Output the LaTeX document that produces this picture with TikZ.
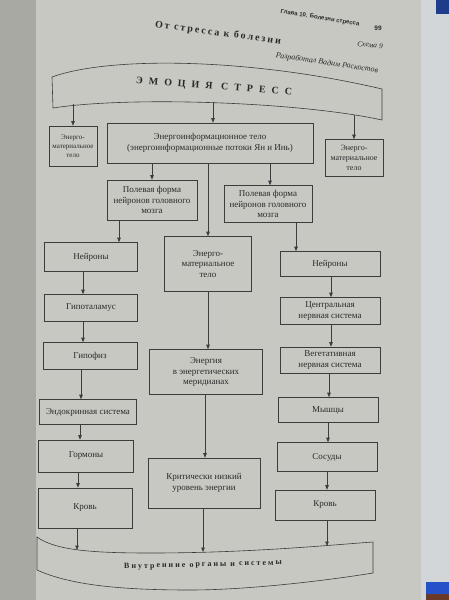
\documentclass[tikz,border=0pt]{standalone}
\usepackage{fontspec}
\setmainfont{Liberation Serif}
\newfontfamily\emofont[LetterSpace=60]{Liberation Serif}
\newfontfamily\orgfont[LetterSpace=25]{Liberation Serif}
\newfontfamily\titfont[LetterSpace=20]{Liberation Serif}
\newfontfamily\headfont{Liberation Sans}
\usetikzlibrary{arrows.meta}
\definecolor{pagec}{HTML}{C8C8C2}
\definecolor{gutterc}{HTML}{A9A9A3}
\definecolor{edgec}{HTML}{D3D6D8}
\definecolor{linec}{HTML}{3C3C3C}
\definecolor{textc}{HTML}{2A2A2A}
\definecolor{bluetop}{HTML}{1E3C8C}
\definecolor{bluebot}{HTML}{2450C8}
\definecolor{brownc}{HTML}{6A3A28}
\begin{document}
\begin{tikzpicture}[x=1pt,y=-1pt,
  box/.style={draw=linec, line width=0.6pt, fill=pagec, align=center, inner sep=1pt,
    text=textc, font=\fontsize{9}{10.8}\selectfont},
  smallbox/.style={box, font=\fontsize{8}{10}\selectfont},
  arr/.style={draw=linec, line width=0.6pt, -{Triangle[length=4.5pt,width=3.5pt]}},
  banner/.style={draw=linec, line width=0.6pt, fill=pagec},
  lbl/.style={text=textc, inner sep=0pt}]
\useasboundingbox (0,0) rectangle (449,600);
% page and surroundings
\fill[pagec] (0,0) rectangle (449,600);
\fill[gutterc] (0,0) rectangle (36,600);
\fill[edgec] (421,0) rectangle (449,600);
\fill[bluetop] (436,0) rectangle (449,14);
\fill[bluebot] (426,582) rectangle (449,594);
\fill[brownc] (426,594) rectangle (449,600);

% header
\node[lbl, rotate=-9, font=\headfont\bfseries\fontsize{6}{7}\selectfont] (hdr) at (320,18) {Глава 10. Болезни стресса};
\node[lbl, font=\headfont\bfseries\fontsize{6.5}{7}\selectfont] (pg) at (378,28) {99};
\node[lbl, rotate=-7.5, font=\titfont\bfseries\fontsize{10}{11}\selectfont] (tit) at (218,33) {От стресса к болезни};
\node[lbl, rotate=-6, font=\itshape\fontsize{7.5}{9}\selectfont] (sch) at (370,45) {Схема 9};
\node[lbl, rotate=-8.5, font=\itshape\fontsize{8}{9}\selectfont] (aut) at (327,63) {Разработал Вадим Раскостов};

% top banner
\path[banner] (52,77) .. controls (110,56) and (250,58) .. (382,89) -- (382,120)
  .. controls (300,102) and (130,96) .. (53,108) -- cycle;
\node[lbl, rotate=-4.5, font=\emofont\bfseries\fontsize{10}{11}\selectfont] (emo) at (214,87) {ЭМОЦИЯ СТРЕСС};
\coordinate (tb1) at (73,104);
\coordinate (tb2) at (213,102);
\coordinate (tb3) at (354,115);

% bottom banner
\path[banner] (37,537) .. controls (55,550) and (90,553) .. (150,553)
  .. controls (250,553) and (330,545) .. (373,542) -- (373,573)
  .. controls (330,580) and (250,590) .. (190,590)
  .. controls (120,590) and (70,585) .. (37,570) -- cycle;
\node[lbl, rotate=1.5, font=\orgfont\bfseries\fontsize{8}{9}\selectfont] (org) at (203,565) {Внутренние органы и системы};
\coordinate (bb1) at (77,550);
\coordinate (bb2) at (203,552);
\coordinate (bb3) at (327,546);

% boxes
\node[smallbox, font=\fontsize{7}{9}\selectfont, minimum width=48pt, minimum height=40pt] (A) at (73,146) {Энерго-\\материальное\\тело};
\node[box, minimum width=206pt, minimum height=40pt] (B) at (210,143) {Энергоинформационное тело\\(энергоинформационные потоки Ян и Инь)};
\node[smallbox, minimum width=58pt, minimum height=37pt] (C) at (354,158) {Энерго-\\материальное\\тело};
\node[box, minimum width=90pt, minimum height=40pt] (D) at (152,200) {Полевая форма\\нейронов головного\\мозга};
\node[box, minimum width=88pt, minimum height=37pt] (E) at (268,204) {Полевая форма\\нейронов головного\\мозга};
\node[box, minimum width=93pt, minimum height=29pt] (F) at (91,257) {Нейроны};
\node[box, minimum width=87pt, minimum height=55pt] (G) at (208,264) {Энерго-\\материальное\\тело};
\node[box, minimum width=100pt, minimum height=25pt] (H) at (330,264) {Нейроны};
\node[box, minimum width=93pt, minimum height=27pt] (I) at (91,308) {Гипоталамус};
\node[box, minimum width=100pt, minimum height=27pt] (J) at (330,311) {Центральная\\нервная система};
\node[box, minimum width=94pt, minimum height=27pt] (K) at (90,356) {Гипофиз};
\node[box, minimum width=113pt, minimum height=45pt] (L) at (206,372) {Энергия\\в энергетических\\меридианах};
\node[box, minimum width=100pt, minimum height=26pt] (M) at (330,360) {Вегетативная\\нервная система};
\node[box, minimum width=97pt, minimum height=25pt] (N) at (88,412) {Эндокринная система};
\node[box, minimum width=100pt, minimum height=25pt] (O) at (328,410) {Мышцы};
\node[box, minimum width=95pt, minimum height=32pt] (P) at (86,456) {Гормоны};
\node[box, minimum width=100pt, minimum height=29pt] (Q) at (327,457) {Сосуды};
\node[box, minimum width=112pt, minimum height=50pt] (R) at (204,483) {Критически низкий\\уровень энергии};
\node[box, minimum width=94pt, minimum height=40pt] (S) at (85,508) {Кровь};
\node[box, minimum width=100pt, minimum height=30pt] (T) at (325,505) {Кровь};

% connectors
\draw[arr] (tb1) -- (A.north);
\draw[arr] (tb2) -- (B.north -| tb2);
\draw[arr] (tb3) -- (C.north -| tb3);
\draw[arr] (B.south -| D.north) -- (D.north);
\draw[arr] (B.south -| 270,0) -- (E.north -| 270,0);
\draw[arr] (B.south -| G.north) -- (G.north);
\draw[arr] (D.south -| 119,0) -- (F.north -| 119,0);
\draw[arr] (E.south -| 296,0) -- (H.north -| 296,0);
\draw[arr] (F.south -| 83,0) -- (I.north -| 83,0);
\draw[arr] (I.south -| 83,0) -- (K.north -| 83,0);
\draw[arr] (K.south -| 81,0) -- (N.north -| 81,0);
\draw[arr] (N.south -| 80,0) -- (P.north -| 80,0);
\draw[arr] (P.south -| 78,0) -- (S.north -| 78,0);
\draw[arr] (S.south -| bb1) -- (bb1);
\draw[arr] (G.south -| 208,0) -- (L.north -| 208,0);
\draw[arr] (L.south -| 205,0) -- (R.north -| 205,0);
\draw[arr] (R.south -| bb2) -- (bb2);
\draw[arr] (H.south -| 331,0) -- (J.north -| 331,0);
\draw[arr] (J.south -| 331,0) -- (M.north -| 331,0);
\draw[arr] (M.south -| 329,0) -- (O.north -| 329,0);
\draw[arr] (O.south -| 328,0) -- (Q.north -| 328,0);
\draw[arr] (Q.south -| 327,0) -- (T.north -| 327,0);
\draw[arr] (T.south -| bb3) -- (bb3);
\end{tikzpicture}
\end{document}
